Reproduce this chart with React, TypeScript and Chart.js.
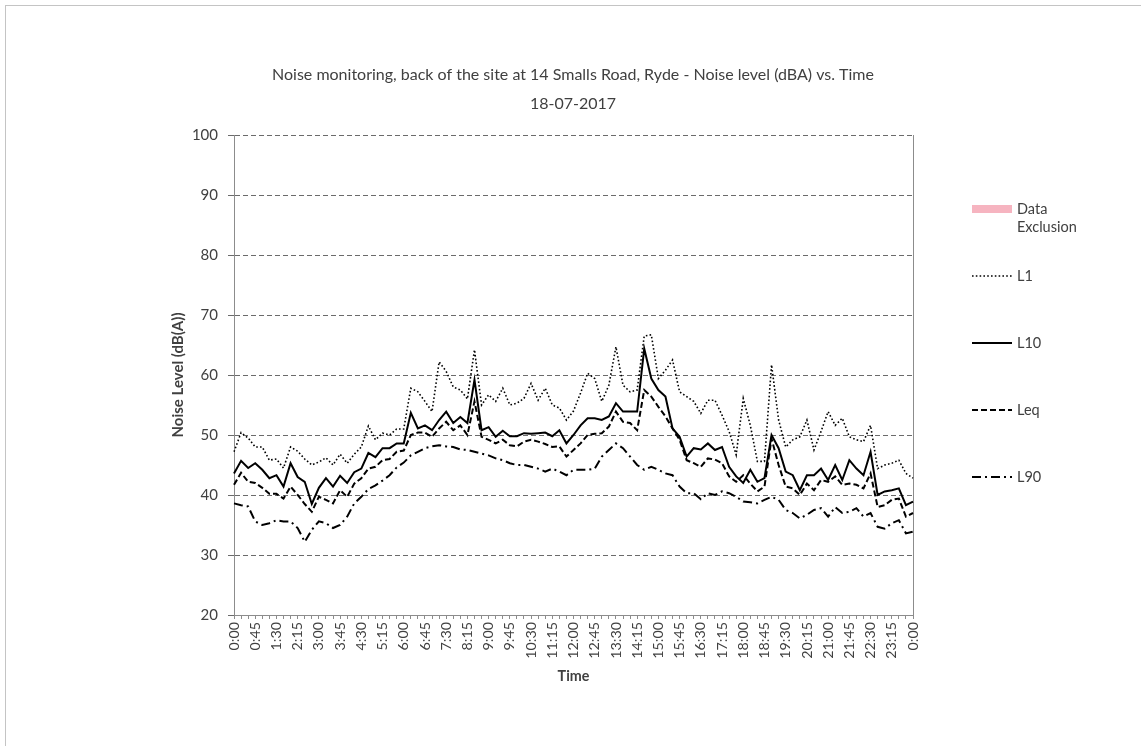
import { useEffect, useRef } from 'react';
import { Chart, registerables } from 'chart.js';

Chart.register(...registerables);

const TITLE_TEXT = 'Noise monitoring, back of the site at 14 Smalls Road, Ryde - Noise level (dBA) vs. Time';
const DATE_TEXT = '18-07-2017';
const Y_TITLE = 'Noise Level (dB(A))';
const X_TITLE = 'Time';

const timeLabels: string[] = [
  '0:00', '0:15', '0:30', '0:45', '1:00', '1:15', '1:30', '1:45',
  '2:00', '2:15', '2:30', '2:45', '3:00', '3:15', '3:30', '3:45',
  '4:00', '4:15', '4:30', '4:45', '5:00', '5:15', '5:30', '5:45',
  '6:00', '6:15', '6:30', '6:45', '7:00', '7:15', '7:30', '7:45',
  '8:00', '8:15', '8:30', '8:45', '9:00', '9:15', '9:30', '9:45',
  '10:00', '10:15', '10:30', '10:45', '11:00', '11:15', '11:30', '11:45',
  '12:00', '12:15', '12:30', '12:45', '13:00', '13:15', '13:30', '13:45',
  '14:00', '14:15', '14:30', '14:45', '15:00', '15:15', '15:30', '15:45',
  '16:00', '16:15', '16:30', '16:45', '17:00', '17:15', '17:30', '17:45',
  '18:00', '18:15', '18:30', '18:45', '19:00', '19:15', '19:30', '19:45',
  '20:00', '20:15', '20:30', '20:45', '21:00', '21:15', '21:30', '21:45',
  '22:00', '22:15', '22:30', '22:45', '23:00', '23:15', '23:30', '23:45',
  '0:00',
];

const l1Values: number[] = [
  47.2, 50.4, 49.5, 48, 48, 45.8, 46, 44.5, 48, 47.3, 46, 45, 45.5, 46.2, 45, 46.8,
  45.3, 46.8, 48, 51.5, 49.2, 50.3, 50, 51, 51, 57.8, 57.2, 55.6, 53.9, 62.2, 60.6, 58,
  57.5, 56, 64.2, 55, 56.7, 55.6, 57.8, 55, 55.3, 56.1, 58.6, 55.8, 57.8, 55, 54.5, 52.5,
  54, 57, 60.3, 59.4, 55.6, 58.3, 64.7, 58.3, 57.2, 57.5, 66.5, 66.7, 59.4, 60.8, 62.5, 57.2,
  56.4, 55.6, 53.6, 55.8, 55.8, 53.3, 50.6, 46.7, 56.1, 51.6, 45.6, 45.6, 61.7, 52.5, 48, 49.2,
  49.7, 52.5, 47.5, 50.6, 53.9, 51.6, 52.8, 49.7, 49.2, 48.9, 51.6, 44.4, 45, 45.3, 45.8, 43.6,
  42.8,
];

const l10Values: number[] = [
  43.6, 45.7, 44.5, 45.3, 44.2, 42.8, 43.3, 41.4, 45.3, 43, 42.2, 38.5, 41.2, 42.8, 41.4, 43.2,
  42, 43.8, 44.4, 47, 46.3, 47.8, 47.8, 48.6, 48.6, 53.7, 51.1, 51.6, 50.8, 52.5, 53.9, 52,
  53, 52, 59.2, 50.8, 51.3, 49.7, 50.7, 49.8, 49.8, 50.3, 50.2, 50.3, 50.4, 49.8, 50.8, 48.6,
  50, 51.6, 52.8, 52.8, 52.5, 53.1, 55.3, 53.9, 53.9, 53.9, 64.4, 59.4, 57.5, 56.4, 51.1, 49.7,
  46.4, 47.8, 47.6, 48.6, 47.5, 48, 44.7, 43.1, 42, 44.2, 42.2, 42.8, 50, 47.8, 43.9, 43.3,
  40.8, 43.3, 43.3, 44.4, 42.5, 45, 42.5, 45.8, 44.4, 43.3, 47.2, 40, 40.6, 40.8, 41.1, 38.3,
  38.9,
];

const leqValues: number[] = [
  41.7, 43.7, 42.2, 42, 41.2, 40.2, 40.2, 39.4, 41.4, 40, 38.5, 37.2, 39.7, 39.2, 38.6, 40.8,
  39.7, 41.9, 42.8, 44.4, 44.7, 45.8, 46, 47.2, 47.4, 50, 50.4, 50.4, 49.7, 51.1, 52.2, 50.8,
  51.6, 50, 55.6, 49.7, 49.2, 48.6, 49.2, 48.3, 48.1, 48.9, 49.2, 48.9, 48.5, 48, 48.1, 46.4,
  47.5, 48.6, 50, 50.2, 50.3, 51.4, 53.9, 52.2, 52, 50.8, 57.5, 56.4, 54.7, 53.1, 51.1, 49.2,
  45.8, 45.3, 44.7, 46.1, 45.9, 45.3, 43.1, 42.2, 43.3, 41.9, 40.6, 41.4, 49.4, 45, 41.4, 41.1,
  40, 41.9, 40.8, 42.5, 42.2, 43.1, 41.7, 41.9, 41.7, 41.1, 43.6, 38, 38.3, 39.2, 39.4, 36.4,
  37,
];

const l90Values: number[] = [
  38.6, 38.3, 38.1, 35.6, 35, 35.3, 35.8, 35.6, 35.6, 34.5, 32.2, 34.2, 35.6, 35.3, 34.5, 35,
  36.4, 38.6, 39.7, 41, 41.6, 42.4, 43.3, 44.6, 45.4, 46.6, 47.2, 47.8, 48.1, 48.3, 48.1, 48,
  47.6, 47.5, 47.2, 46.9, 46.6, 46.1, 45.8, 45.3, 45, 45, 44.7, 44.4, 43.9, 44.4, 43.9, 43.3,
  44.2, 44.2, 44.2, 44.4, 46.4, 47.5, 48.6, 47.8, 46.4, 45, 44.2, 44.7, 44.2, 43.6, 43.3, 41.4,
  40.3, 40.3, 39.3, 40.3, 40, 40.6, 40.3, 39.7, 38.9, 38.8, 38.6, 39.2, 39.7, 39.2, 37.5, 37,
  36.1, 36.7, 37.5, 37.8, 36.4, 38, 37, 37.2, 37.8, 36.4, 37, 34.7, 34.4, 35.3, 35.8, 33.6,
  33.9,
];

const exclusionValues: (number | null)[] = timeLabels.map(() => null);

const FONT = 'Lato, "Open Sans", sans-serif';
const TEXT = '#404040';
const GRID = '#6b6b6b';
const AXIS = '#8c8c8c';

const sideLegend = {
  id: 'sideLegend',
  afterDraw(chart: any) {
    const ctx = chart.ctx as CanvasRenderingContext2D;
    const x0 = chart.chartArea.right + 59;
    const sampleW = 40;
    const firstY = 209;
    const rowGap = 67;
    const lineH = 18;
    ctx.save();
    ctx.font = `14.5px ${FONT}`;
    ctx.fillStyle = TEXT;
    ctx.textBaseline = 'middle';
    ctx.textAlign = 'left';
    chart.data.datasets.forEach((ds: any, k: number) => {
      const y = firstY + k * rowGap;
      if (ds.type === 'bar') {
        ctx.fillStyle = ds.backgroundColor;
        ctx.fillRect(x0, y - 4, sampleW, 8);
      } else {
        ctx.strokeStyle = ds.borderColor;
        ctx.lineWidth = ds.borderWidth;
        ctx.setLineDash(ds.borderDash || []);
        ctx.beginPath();
        ctx.moveTo(x0, y);
        ctx.lineTo(x0 + sampleW, y);
        ctx.stroke();
        ctx.setLineDash([]);
      }
      const words = String(ds.label).split(' ');
      const lines: string[] = [];
      let cur = '';
      words.forEach((w) => {
        const t = cur ? cur + ' ' + w : w;
        if (cur && ctx.measureText(t).width > 70) {
          lines.push(cur);
          cur = w;
        } else cur = t;
      });
      if (cur) lines.push(cur);
      ctx.fillStyle = TEXT;
      lines.forEach((ln, j) => ctx.fillText(ln, x0 + sampleW + 5, y + j * lineH));
    });
    ctx.restore();
  },
};

export default function App() {
  const ref = useRef<HTMLCanvasElement | null>(null);

  useEffect(() => {
    if (!ref.current) return;
    const chart = new Chart(ref.current, {
      type: 'line',
      data: {
        labels: timeLabels,
        datasets: [
          {
            type: 'bar',
            label: 'Data Exclusion',
            data: exclusionValues,
            backgroundColor: '#f6b4c0',
          } as any,
          {
            label: 'L1',
            data: l1Values,
            borderColor: '#000000',
            borderWidth: 1.6,
            borderDash: [1.6, 2.2],
            pointRadius: 0,
            tension: 0,
            fill: false,
          },
          {
            label: 'L10',
            data: l10Values,
            borderColor: '#000000',
            borderWidth: 2,
            pointRadius: 0,
            tension: 0,
            fill: false,
          },
          {
            label: 'Leq',
            data: leqValues,
            borderColor: '#000000',
            borderWidth: 2,
            borderDash: [6, 3],
            pointRadius: 0,
            tension: 0,
            fill: false,
          },
          {
            label: 'L90',
            data: l90Values,
            borderColor: '#000000',
            borderWidth: 2,
            borderDash: [9, 4, 2, 4],
            pointRadius: 0,
            tension: 0,
            fill: false,
          },
        ],
      },
      options: {
        responsive: false,
        animation: false,
        layout: { padding: 0 },
        plugins: {
          legend: { display: false },
          tooltip: { enabled: false },
          title: {
            display: true,
            text: [TITLE_TEXT, DATE_TEXT],
            color: TEXT,
            font: { family: FONT, size: 16, weight: 'normal', lineHeight: 1.8375 },
            padding: { top: 60, bottom: 16.2 },
          },
        },
        scales: {
          x: {
            type: 'category',
            offset: false,
            grid: {
              display: true,
              offset: false,
              drawOnChartArea: false,
              drawTicks: true,
              tickLength: 4,
              color: AXIS,
            },
            border: { display: true, color: AXIS, width: 1 },
            ticks: {
              autoSkip: false,
              minRotation: 90,
              maxRotation: 90,
              padding: 3,
              color: TEXT,
              font: { family: FONT, size: 14.3 },
              callback: (_v: any, i: number) => (i % 3 === 0 ? timeLabels[i] : ''),
            },
            title: {
              display: true,
              text: X_TITLE,
              color: TEXT,
              font: { family: FONT, size: 14.3, weight: 'bold' },
              padding: { top: 0, bottom: 66.4 },
            },
            afterFit: (s: any) => {
              s.height = 136;
            },
          },
          y: {
            position: 'left',
            min: 20,
            max: 100,
            grid: {
              color: GRID,
              lineWidth: 1,
              drawTicks: true,
              tickLength: 6,
              tickColor: GRID,
            },
            border: { display: true, color: AXIS, width: 1, dash: [5, 3] },
            ticks: {
              stepSize: 10,
              padding: 10,
              color: TEXT,
              font: { family: FONT, size: 15 },
            },
            title: {
              display: true,
              text: Y_TITLE,
              color: TEXT,
              font: { family: FONT, size: 15, weight: 'bold' },
              padding: { top: 169, bottom: 0 },
            },
            afterFit: (s: any) => {
              s.width = 234;
            },
          },
          yR: {
            position: 'right',
            min: 20,
            max: 100,
            grid: { display: false },
            ticks: { display: false },
            border: { display: true, color: AXIS, width: 1 },
            afterFit: (s: any) => {
              s.width = 233;
            },
          },
        },
      } as any,
      plugins: [sideLegend],
    });
    return () => chart.destroy();
  }, []);

  return (
    <div style={{ position: 'fixed', left: 0, top: 0, width: 1146, height: 751, background: '#ffffff' }}>
      <div
        style={{
          position: 'absolute',
          left: 5,
          top: 5,
          width: 1136,
          height: 741,
          borderTop: '1px solid #c4c4c4',
          borderLeft: '1px solid #c4c4c4',
          boxSizing: 'border-box',
          pointerEvents: 'none',
        }}
      />
      <canvas ref={ref} width={1146} height={751} style={{ position: 'absolute', left: 0, top: 0, width: 1146, height: 751 }} />
    </div>
  );
}
